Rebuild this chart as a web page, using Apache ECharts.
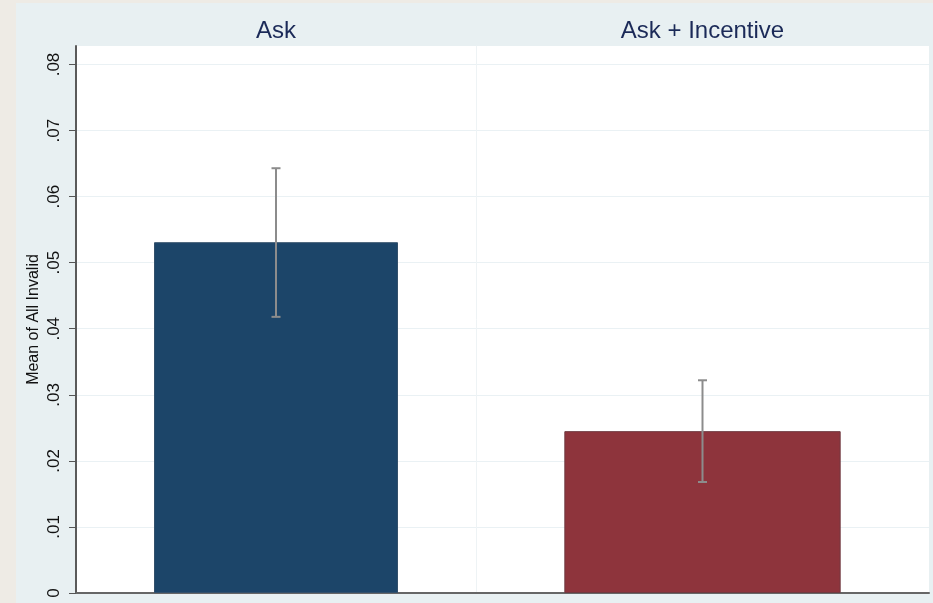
<!DOCTYPE html>
<html>
<head>
<meta charset="utf-8">
<script src="https://cdn.jsdelivr.net/npm/echarts@6/dist/echarts.min.js"></script>
<style>
  html, body { margin: 0; padding: 0; background: #eeebe5; width: 933px; height: 603px; overflow: hidden; }
  #chart { position: absolute; left: 16px; top: 3px; width: 917px; height: 600px; }
</style>
</head>
<body>
<div id="chart"></div>
<script>
const categories = ['Ask', 'Ask + Incentive'];
const means = [0.0531, 0.0245];
const lowerCI = [0.0418, 0.0168];
const upperCI = [0.0643, 0.0322];
const yTicks = [0, 0.01, 0.02, 0.03, 0.04, 0.05, 0.06, 0.07, 0.08];
const yMax = 0.0828;
const barColors = ['#1c4569', '#8e343c'];
const barBorders = ['#33506b', '#6f3a40'];

const chart = echarts.init(document.getElementById('chart'));

function fmtTick(v) {
  if (Math.abs(v) < 1e-9) return '0';
  return v.toFixed(2).replace(/^0/, '');
}

const grids = [
  { left: 60, width: 400, top: 43, bottom: 10, show: true, backgroundColor: '#ffffff', borderWidth: 0 },
  { left: 460, width: 453, top: 43, bottom: 10, show: true, backgroundColor: '#ffffff', borderWidth: 0 }
];

const xAxes = [];
const yAxes = [];
const series = [];

categories.forEach((cat, i) => {
  xAxes.push({
    type: 'category', gridIndex: i, position: 'top', data: [cat],
    axisLine: { show: false }, axisTick: { show: false }, splitLine: { show: false },
    axisLabel: { show: true, color: '#1b2a58', fontSize: 24, fontFamily: 'Liberation Sans, Arial, sans-serif', margin: 3 }
  });
  xAxes.push({
    type: 'category', gridIndex: i, position: 'bottom', data: [cat],
    axisLine: { show: true, lineStyle: { color: '#666666', width: 2 } },
    axisTick: { show: false }, axisLabel: { show: false }, splitLine: { show: false }
  });
  yAxes.push({
    type: 'value', gridIndex: i, min: 0, max: yMax,
    name: i === 0 ? 'Mean of All Invalid' : '',
    nameLocation: 'middle', nameGap: 34, nameRotate: 90,
    nameTextStyle: { fontSize: 16, color: '#111111', fontFamily: 'Liberation Sans, Arial, sans-serif' },
    axisLine: { show: true, lineStyle: { color: i === 0 ? '#5a5a5a' : '#eef3f5', width: i === 0 ? 2 : 1 } },
    axisTick: { show: i === 0, length: 7, customValues: yTicks, lineStyle: { color: '#555555' } },
    axisLabel: {
      show: i === 0, rotate: 90, fontSize: 17, color: '#111111', margin: 13,
      customValues: yTicks,
      fontFamily: 'Liberation Sans, Arial, sans-serif', formatter: fmtTick
    },
    splitLine: { show: true, lineStyle: { color: '#eaf1f4', width: 1 } }
  });
  series.push({
    type: 'bar', xAxisIndex: i * 2, yAxisIndex: i, barWidth: '61%',
    data: [means[i]],
    itemStyle: { color: barColors[i], borderColor: barBorders[i], borderWidth: 1 },
    silent: true, animation: false
  });
  series.push({
    type: 'custom', xAxisIndex: i * 2, yAxisIndex: i,
    data: [[0, lowerCI[i], upperCI[i]]],
    renderItem: function (params, api) {
      const lo = api.coord([api.value(0), api.value(1)]);
      const hi = api.coord([api.value(0), api.value(2)]);
      const hw = 4.5;
      const st = { stroke: '#8c8c8c', lineWidth: 2 };
      return {
        type: 'group',
        children: [
          { type: 'line', shape: { x1: hi[0], y1: hi[1], x2: lo[0], y2: lo[1] }, style: st },
          { type: 'line', shape: { x1: hi[0] - hw, y1: hi[1], x2: hi[0] + hw, y2: hi[1] }, style: st },
          { type: 'line', shape: { x1: lo[0] - hw, y1: lo[1], x2: lo[0] + hw, y2: lo[1] }, style: st }
        ]
      };
    },
    z: 5, silent: true, animation: false
  });
});

chart.setOption({
  backgroundColor: '#e8f0f2',
  animation: false,
  grid: grids,
  xAxis: xAxes,
  yAxis: yAxes,
  series: series
});
</script>
</body>
</html>
